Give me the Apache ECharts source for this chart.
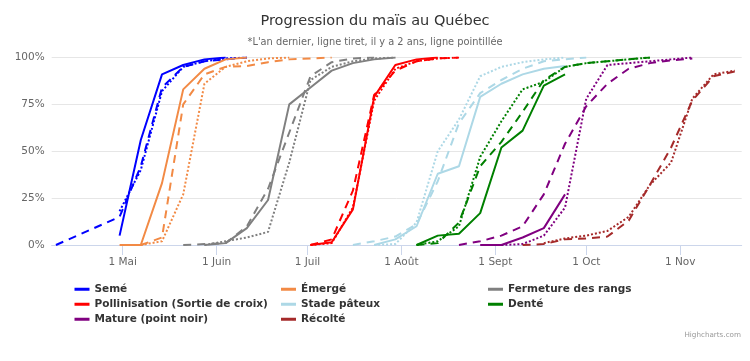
<!DOCTYPE html>
<html>
<head>
<meta charset="utf-8">
<script src="https://cdn.jsdelivr.net/npm/echarts@6/dist/echarts.min.js"></script>
<style>
html,body{margin:0;padding:0;background:#fff;}
#chart{width:750px;height:361px;}
</style>
</head>
<body>
<div id="chart"></div>
<script>
// ---- Data (dates MM-DD, values in %) ----
const tickDates = ['05-01','06-01','07-01','08-01','09-01','10-01','11-01'];
const tickLabels = ['1 Mai','1 Juin','1 Juil','1 Août','1 Sept','1 Oct','1 Nov'];

const categories = ['Semé','Émergé','Fermeture des rangs','Pollinisation (Sortie de croix)','Stade pâteux','Denté','Mature (point noir)','Récolté'];
const colors = ['#0000ff','#f28a45','#808080','#ff0000','#add8e6','#008000','#800080','#a52a2a'];

// Semé
const semeCur  = [['04-30',5],['05-07',56],['05-14',91],['05-21',96],['05-28',99],['06-04',100]];
const semePrev = [['04-09',0],['04-30',15],['05-07',42],['05-14',84],['05-21',95],['05-28',98],['06-04',99],['06-11',100]];
const semeOld  = [['04-30',18],['05-07',40],['05-14',82],['05-21',95],['05-28',98],['06-04',99.5],['06-11',100]];
// Émergé
const emergeCur  = [['04-30',0],['05-07',0],['05-14',33],['05-21',83],['05-28',94],['06-04',99],['06-11',100]];
const emergePrev = [['05-07',0],['05-14',4],['05-21',75],['05-28',91],['06-04',95],['06-11',95.5],['06-18',97.5],['06-25',99],['07-02',99.5],['07-09',100]];
const emergeOld  = [['05-07',0],['05-14',2],['05-21',27],['05-28',86],['06-04',95],['06-11',98],['06-18',99.5],['06-25',100]];
// Fermeture des rangs
const fermCur  = [['05-28',0],['06-04',1],['06-11',9],['06-18',24],['06-25',75],['07-02',84],['07-09',93],['07-16',97],['07-23',99],['07-30',100]];
const fermPrev = [['05-21',0],['05-28',0.5],['06-04',1],['06-11',10],['06-18',30],['06-25',60],['07-02',90],['07-09',97.5],['07-16',99.5],['07-23',100]];
const fermOld  = [['05-28',0],['06-04',2],['06-11',4],['06-18',7],['06-25',44],['07-02',88],['07-09',95],['07-16',98],['07-23',99.5],['07-30',100]];
// Pollinisation
const pollCur  = [['07-02',0],['07-09',1.5],['07-16',19],['07-23',79],['07-30',96],['08-06',99],['08-13',100]];
const pollPrev = [['07-02',0],['07-09',3],['07-16',29],['07-23',80],['07-30',93],['08-06',98],['08-13',99.5],['08-20',100]];
const pollOld  = [['07-02',0],['07-09',1],['07-16',20],['07-23',77],['07-30',94],['08-06',98],['08-13',99.5],['08-20',100]];
// Stade pâteux
const pateuxCur  = [['07-23',0],['07-30',3],['08-06',10],['08-13',38],['08-20',42],['08-27',79],['09-03',86],['09-10',91],['09-17',94],['09-24',95.5]];
const pateuxPrev = [['07-16',0],['07-23',2],['07-30',4.5],['08-06',11],['08-13',34],['08-20',65],['08-27',81],['09-03',88],['09-10',94],['09-17',98],['09-24',99],['10-01',100]];
const pateuxOld  = [['07-23',0],['07-30',0.5],['08-06',12],['08-13',50],['08-20',67],['08-27',90],['09-03',95],['09-10',97.5],['09-17',99],['09-24',100]];
// Denté
const denteCur  = [['08-06',0],['08-13',5],['08-20',6],['08-27',17],['09-03',52],['09-10',61],['09-17',85],['09-24',91]];
const dentePrev = [['08-06',0],['08-13',1],['08-20',12],['08-27',42],['09-03',55],['09-10',71],['09-17',88],['09-24',95],['10-01',97],['10-08',98],['10-15',99],['10-22',100]];
const denteOld  = [['08-06',0],['08-13',2],['08-20',10],['08-27',47],['09-03',66],['09-10',83],['09-17',87],['09-24',95],['10-01',97],['10-08',98],['10-15',99],['10-22',100]];
// Mature
const matureCur  = [['08-27',0],['09-03',0],['09-10',4],['09-17',9],['09-24',27]];
const maturePrev = [['08-20',0],['08-27',2],['09-03',5],['09-10',10],['09-17',27],['09-24',54],['10-01',74],['10-08',86],['10-15',94],['10-22',97],['10-29',98.5],['11-05',99.5]];
const matureOld  = [['09-03',0],['09-10',0.5],['09-17',5],['09-24',20],['10-01',78],['10-08',96],['10-15',97],['10-22',98],['10-29',99],['11-05',100]];
// Récolté
const recolteCur  = [];
const recoltePrev = [['09-10',0],['09-17',0.5],['09-24',3],['10-01',3.5],['10-08',4.5],['10-15',13],['10-22',32],['10-29',52],['11-05',77],['11-12',90],['11-19',92.5]];
const recolteOld  = [['09-17',1],['09-24',3.5],['10-01',5],['10-08',7.5],['10-15',15],['10-22',32],['10-29',44],['11-05',78],['11-12',91],['11-19',93]];

const groups = [
  [semeCur, semePrev, semeOld],
  [emergeCur, emergePrev, emergeOld],
  [fermCur, fermPrev, fermOld],
  [pollCur, pollPrev, pollOld],
  [pateuxCur, pateuxPrev, pateuxOld],
  [denteCur, dentePrev, denteOld],
  [matureCur, maturePrev, matureOld],
  [recolteCur, recoltePrev, recolteOld]
];

// ---- helpers ----
const monthStart = [0,31,59,90,120,151,181,212,243,273,304,334];
function doy(s){ const p = s.split('-').map(Number); return monthStart[p[0]-1] + p[1] - 1; }
const tickDays = tickDates.map(doy);
const FONT = 'DejaVu Sans';

const styles = ['solid', [8,6], [2,2]];
const suffix = ['', ' (an dernier)', ' (il y a 2 ans)'];
const series = [];
groups.forEach((g, i) => {
  g.forEach((data, k) => {
    series.push({
      type: 'line',
      name: categories[i] + suffix[k],
      data: data.map(d => [doy(d[0]), d[1]]),
      symbol: 'none',
      showSymbol: false,
      silent: true,
      animation: false,
      emphasis: {disabled: true},
      itemStyle: {color: colors[i]},
      lineStyle: {color: colors[i], width: 2, type: styles[k]}
    });
  });
});

function legendCol(names, left){
  return {
    data: names, orient: 'vertical', left: left, top: 282, padding: 0,
    itemGap: 0.5, itemWidth: 15, itemHeight: 3, icon: 'rect', selectedMode: false,
    textStyle: {fontFamily: FONT, fontSize: 10.5, fontWeight: 'bold', color: '#333', lineHeight: 14.5}
  };
}

const chart = echarts.init(document.getElementById('chart'), null, {renderer: 'canvas'});
chart.setOption({
  animation: false,
  backgroundColor: '#ffffff',
  grid: {left: 51.7, right: 8.3, top: 57.5, bottom: 116, containLabel: false, outerBoundsMode: 'none'},
  xAxis: {
    type: 'value', min: 96.6, max: 324.3,
    splitLine: {show: false},
    axisLine: {show: true, lineStyle: {color: '#ccd6eb', width: 1}},
    axisTick: {show: true, length: 10, lineStyle: {color: '#ccd6eb'}, customValues: tickDays},
    axisLabel: {
      customValues: tickDays, margin: 12, color: '#666', fontFamily: FONT, fontSize: 10.5,
      formatter: v => { const i = tickDays.indexOf(Math.round(v)); return i >= 0 ? tickLabels[i] : ''; }
    }
  },
  yAxis: {
    type: 'value', min: 0, max: 100, interval: 25,
    axisLine: {show: false}, axisTick: {show: false},
    splitLine: {show: true, lineStyle: {color: '#e6e6e6', width: 1}},
    axisLabel: {formatter: '{value}%', color: '#666', fontFamily: FONT, fontSize: 10.5, margin: 7}
  },
  legend: [
    legendCol([categories[0], categories[3], categories[6]], 74.5),
    legendCol([categories[1], categories[4], categories[7]], 281),
    legendCol([categories[2], categories[5]], 488)
  ],
  graphic: [
    {type: 'text', left: 'center', top: 14, style: {text: 'Progression du maïs au Québec', fontFamily: FONT, fontSize: 14.5, fill: '#333'}},
    {type: 'text', left: 'center', top: 37, style: {text: "*L'an dernier, ligne tiret, il y a 2 ans, ligne pointillée", fontFamily: FONT, fontSize: 9.8, fill: '#666'}},
    {type: 'text', right: 9, top: 332, style: {text: 'Highcharts.com', fontFamily: FONT, fontSize: 7.2, fill: '#999'}}
  ],
  series: series
});
</script>
</body>
</html>
